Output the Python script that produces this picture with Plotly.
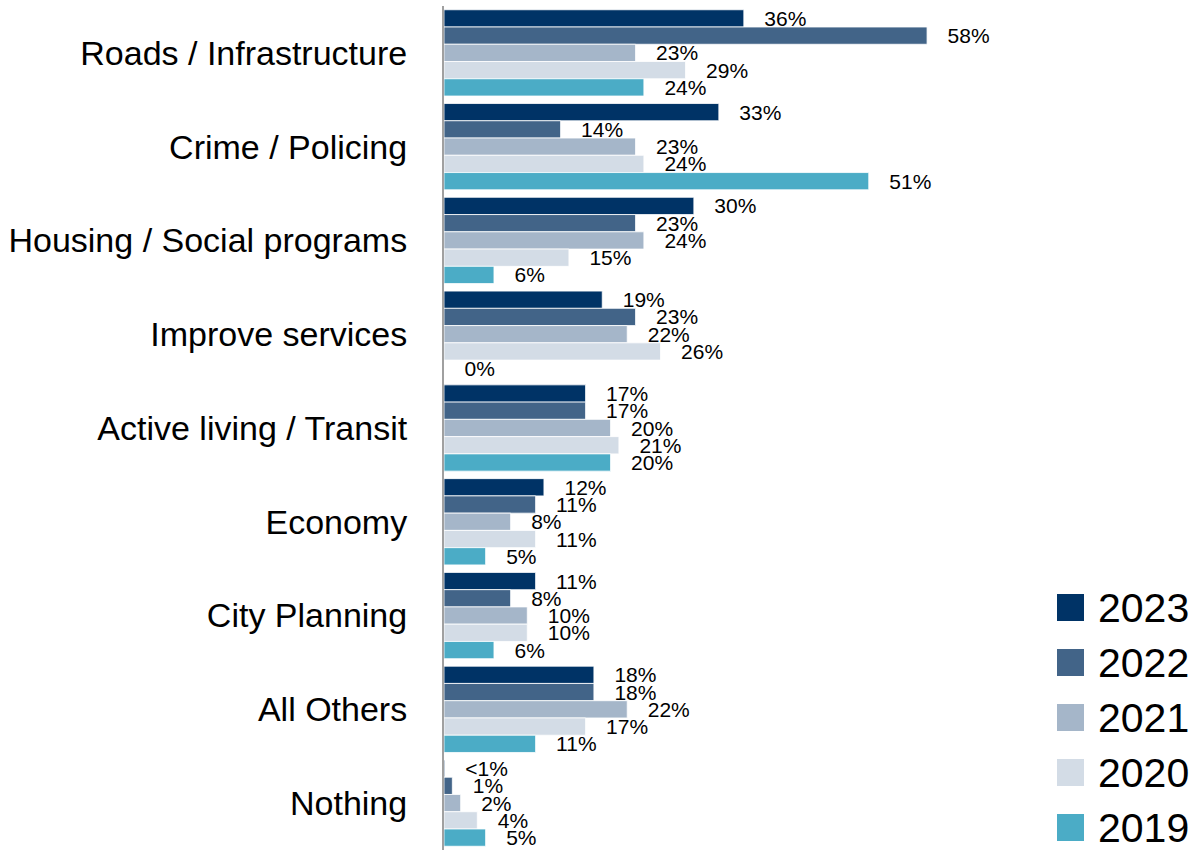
import plotly.graph_objects as go

# Survey: most important issue, by year (percent of respondents)
categories = [
    "Roads / Infrastructure",
    "Crime / Policing",
    "Housing / Social programs",
    "Improve services",
    "Active living / Transit",
    "Economy",
    "City Planning",
    "All Others",
    "Nothing",
]

years = ["2023", "2022", "2021", "2020", "2019"]
colors = ["#003366", "#426488", "#a5b6c9", "#d3dce6", "#4bacc6"]

v2023 = [36, 33, 30, 19, 17, 12, 11, 18, 0.1]
v2022 = [58, 14, 23, 23, 17, 11, 8, 18, 1]
v2021 = [23, 23, 24, 22, 20, 8, 10, 22, 2]
v2020 = [29, 24, 15, 26, 21, 11, 10, 17, 4]
v2019 = [24, 51, 6, 0, 20, 5, 6, 11, 5]

series = [v2023, v2022, v2021, v2020, v2019]

W, H = 1196, 850
ML, MR, MT, MB = 444, 169, 6, 0
PW, PH = W - ML - MR, H - MT - MB

FONT = "Liberation Sans, Arial, sans-serif"


def label(v):
    if 0 < v < 1:
        return "<1%"
    return f"{v:g}%"


fig = go.Figure()
for name, vals, col in zip(years, series, colors):
    fig.add_trace(go.Bar(
        name=name,
        y=categories,
        x=vals,
        orientation="h",
        marker=dict(color=col, line=dict(color="white", width=0.8)),
        text=[label(v) for v in vals],
        texttemplate="\u00a0\u00a0\u00a0%{text}",
        textposition="outside",
        constraintext="none",
        cliponaxis=False,
        textfont=dict(family=FONT, size=21, color="black"),
        showlegend=False,
        hoverinfo="skip",
    ))


def px_x(px):
    return (px - ML) / PW


def px_y(py):
    return (H - MB - py) / PH


# Legend drawn as large swatches with year labels
shapes = []
annotations = []
for i, (name, col) in enumerate(zip(years, colors)):
    top = 594 + 55 * i
    shapes.append(dict(
        type="rect", xref="paper", yref="paper",
        x0=px_x(1057), x1=px_x(1084), y0=px_y(top + 27), y1=px_y(top),
        fillcolor=col, line=dict(width=0),
    ))
    annotations.append(dict(
        xref="paper", yref="paper", x=px_x(1096), y=px_y(top + 13.5),
        text=name, showarrow=False, xanchor="left", yanchor="middle",
        font=dict(family=FONT, size=41, color="black"),
    ))

fig.update_layout(
    width=W, height=H,
    margin=dict(l=ML, r=MR, t=MT, b=MB),
    barmode="group",
    bargap=0.08,
    bargroupgap=0,
    plot_bgcolor="white",
    paper_bgcolor="white",
    shapes=shapes,
    annotations=annotations,
    xaxis=dict(range=[0, 70], visible=False, showgrid=False, zeroline=False),
    yaxis=dict(
        autorange="reversed",
        showline=True, linecolor="#a0a0a0", linewidth=2,
        ticks="", showgrid=False, ticklabelstandoff=28,
        tickfont=dict(family=FONT, size=34, color="black"),
    ),
)

fig.write_html("out.html")
